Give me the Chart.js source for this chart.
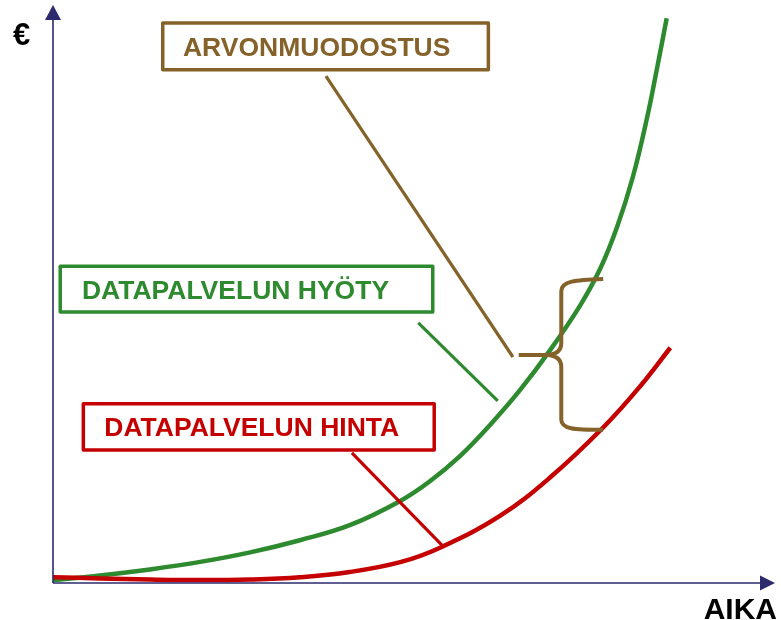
<!DOCTYPE html>
<html>
<head>
<meta charset="utf-8">
<script src="https://cdn.jsdelivr.net/npm/chart.js@4/dist/chart.umd.min.js"></script>
<style>
  html, body { margin: 0; padding: 0; background: #ffffff; }
  #wrap { width: 781px; height: 620px; }
</style>
</head>
<body>
<div id="wrap"><canvas id="c" width="781" height="620"></canvas></div>
<script>
// ---- Data (x = time, y = euros, both on a 0..100 scale) ----
const benefitX = [0, 6.5, 13.4, 20.4, 27.3, 34.2, 41.1, 48.1, 52.2, 56.4, 60.5, 64.7, 68.8, 73.0, 75.8, 78.1, 80.3, 82.3, 83.7, 85.0];
const benefitY = [0.5, 1.3, 2.35, 3.65, 5.3, 7.4, 10.0, 14.2, 17.6, 22.0, 27.3, 33.4, 40.2, 48.0, 54.4, 61.5, 70.2, 80.6, 89.3, 97.7];
const priceX = [0, 6.5, 13.4, 20.4, 27.3, 34.2, 41.1, 48.1, 53.6, 61.9, 68.8, 76.2, 81.3, 85.5];
const priceY = [1.0, 0.8, 0.6, 0.5, 0.6, 1.0, 1.9, 3.6, 6.1, 11.6, 18.2, 26.9, 34.0, 40.7];

const yAxisLabel = "€";
const xAxisLabel = "AIKA";
const labelTexts = ["ARVONMUODOSTUS", "DATAPALVELUN HYÖTY", "DATAPALVELUN HINTA"];

// label boxes in data units: [x1, x2, yTop, yBottom, textX]
const labelBoxes = [
  [15.2, 60.3, 96.9, 88.8, 18.0],
  [1.0, 52.6, 54.8, 46.9, 4.0],
  [4.2, 52.8, 31.0, 23.0, 7.1]
];
// leader lines in data units: [x1, y1, x2, y2]
const leaders = [
  [37.8, 87.7, 63.7, 39.1],
  [50.6, 45.0, 61.6, 31.5],
  [41.4, 22.5, 54.0, 6.4]
];
// brace in data units: tip x, stem x, arm end x, top y, middle y, bottom y
const brace = [64.5, 70.4, 76.2, 52.6, 39.45, 26.5];

const COLORS = ["#85622a", "#2e8a2e", "#c40000"];
const AXIS = "#2b2b6e";

const toPts = (xs, ys) => xs.map((x, i) => ({ x: x, y: ys[i] }));

const overlay = {
  id: 'overlay',
  afterDatasetsDraw(chart) {
    const ctx = chart.ctx;
    const xs = chart.scales.x, ys = chart.scales.y;
    const px = v => xs.getPixelForValue(v);
    const py = v => ys.getPixelForValue(v);
    const a = chart.chartArea;
    ctx.save();

    // axes
    ctx.strokeStyle = AXIS;
    ctx.fillStyle = AXIS;
    ctx.lineWidth = 1.6;
    ctx.beginPath();
    ctx.moveTo(a.left, a.bottom);
    ctx.lineTo(a.left, a.top + 14);
    ctx.moveTo(a.left, a.bottom);
    ctx.lineTo(a.right - 14, a.bottom);
    ctx.stroke();
    ctx.beginPath();
    ctx.moveTo(a.left, a.top);
    ctx.lineTo(a.left - 8, a.top + 15);
    ctx.lineTo(a.left + 8, a.top + 15);
    ctx.closePath();
    ctx.fill();
    ctx.beginPath();
    ctx.moveTo(a.right, a.bottom);
    ctx.lineTo(a.right - 15, a.bottom - 7.5);
    ctx.lineTo(a.right - 15, a.bottom + 7.5);
    ctx.closePath();
    ctx.fill();

    // axis labels
    ctx.fillStyle = "#000000";
    ctx.font = "bold 31px 'Liberation Sans', Arial, sans-serif";
    ctx.textBaseline = "alphabetic";
    ctx.textAlign = "left";
    ctx.fillText(yAxisLabel, 13, 45);
    ctx.font = "bold 30px 'Liberation Sans', Arial, sans-serif";
    ctx.textAlign = "right";
    ctx.fillText(xAxisLabel, 777, 619);

    // leader lines
    ctx.lineWidth = 3.2;
    ctx.lineCap = "butt";
    leaders.forEach((l, i) => {
      ctx.strokeStyle = COLORS[i];
      ctx.beginPath();
      ctx.moveTo(px(l[0]), py(l[1]));
      ctx.lineTo(px(l[2]), py(l[3]));
      ctx.stroke();
    });

    // brace
    const XT = px(brace[0]), XM = px(brace[1]), XE = px(brace[2]);
    const YT = py(brace[3]), YM = py(brace[4]), YB = py(brace[5]);
    ctx.strokeStyle = COLORS[0];
    ctx.lineWidth = 4;
    ctx.lineJoin = "round";
    ctx.beginPath();
    ctx.moveTo(XE, YT);
    ctx.bezierCurveTo(XM + 14, YT + 1, XM, YT + 2, XM, YT + 12);
    ctx.lineTo(XM, YM - 12);
    ctx.quadraticCurveTo(XM, YM - 1, XM - 14, YM);
    ctx.lineTo(XT, YM);
    ctx.moveTo(XM - 14, YM);
    ctx.quadraticCurveTo(XM, YM + 1, XM, YM + 12);
    ctx.lineTo(XM, YB - 10);
    ctx.bezierCurveTo(XM, YB - 1, XM + 12, YB, XE, YB);
    ctx.stroke();

    // boxes + texts
    ctx.font = "bold 26.5px 'Liberation Sans', Arial, sans-serif";
    ctx.textAlign = "left";
    ctx.textBaseline = "alphabetic";
    labelBoxes.forEach((b, i) => {
      const x1 = px(b[0]), x2 = px(b[1]), y1 = py(b[2]), y2 = py(b[3]);
      ctx.fillStyle = "#ffffff";
      ctx.fillRect(x1, y1, x2 - x1, y2 - y1);
      ctx.strokeStyle = COLORS[i];
      ctx.lineWidth = 3.5;
      ctx.strokeRect(x1, y1, x2 - x1, y2 - y1);
      ctx.fillStyle = COLORS[i];
      ctx.fillText(labelTexts[i], px(b[4]), (y1 + y2) / 2 + 9.5);
    });
    ctx.restore();
  }
};

new Chart(document.getElementById('c'), {
  type: 'line',
  data: {
    datasets: [
      {
        label: labelTexts[2],
        data: toPts(priceX, priceY),
        borderColor: COLORS[2],
        borderWidth: 4.5,
        pointRadius: 0,
        tension: 0.4,
        fill: false
      },
      {
        label: labelTexts[1],
        data: toPts(benefitX, benefitY),
        borderColor: COLORS[1],
        borderWidth: 4.5,
        pointRadius: 0,
        tension: 0.4,
        fill: false
      }
    ]
  },
  options: {
    responsive: false,
    animation: false,
    devicePixelRatio: 1,
    layout: { padding: { left: 53, right: 6, top: 5, bottom: 37 } },
    plugins: { legend: { display: false }, tooltip: { enabled: false } },
    scales: {
      x: { type: 'linear', min: 0, max: 100, display: false },
      y: { type: 'linear', min: 0, max: 100, display: false }
    },
    elements: { line: { borderCapStyle: 'butt' } }
  },
  plugins: [overlay]
});
</script>
</body>
</html>
